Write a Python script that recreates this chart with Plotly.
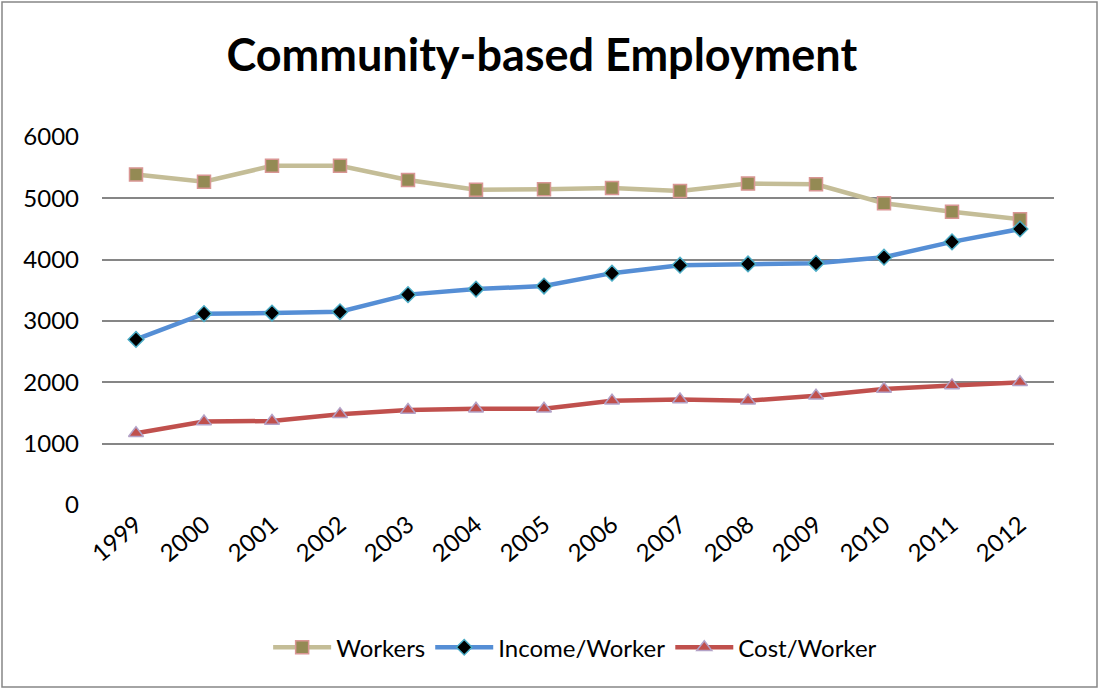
import plotly.graph_objects as go

years = ["1999", "2000", "2001", "2002", "2003", "2004", "2005",
         "2006", "2007", "2008", "2009", "2010", "2011", "2012"]
workers = [5390, 5270, 5530, 5530, 5300, 5140, 5150, 5170, 5120, 5240, 5230, 4920, 4780, 4660]
income_per_worker = [2700, 3120, 3130, 3150, 3430, 3520, 3570, 3780, 3910, 3930, 3940, 4040, 4290, 4500]
cost_per_worker = [1170, 1360, 1370, 1480, 1550, 1570, 1570, 1700, 1720, 1700, 1780, 1890, 1950, 2000]

FONT = "Lato"

fig = go.Figure()
fig.add_trace(go.Scatter(
    x=years, y=workers, name="Workers", mode="lines+markers",
    line=dict(color="#C4BD97", width=4.5),
    marker=dict(symbol="square", size=13, color="#948A54",
                line=dict(color="#D99694", width=1.5)),
))
fig.add_trace(go.Scatter(
    x=years, y=income_per_worker, name="Income/Worker", mode="lines+markers",
    line=dict(color="#558ED5", width=4.5),
    marker=dict(symbol="diamond", size=12, color="#000000",
                line=dict(color="#4BACC6", width=1.5)),
))
fig.add_trace(go.Scatter(
    x=years, y=cost_per_worker, name="Cost/Worker", mode="lines+markers",
    line=dict(color="#C0504D", width=4.5),
    marker=dict(symbol="triangle-up", size=13, color="#C0504D",
                line=dict(color="#B3A2C7", width=1.5)),
))

fig.update_layout(
    width=1099, height=689,
    margin=dict(l=102, r=45, t=137, b=184),
    paper_bgcolor="white", plot_bgcolor="white",
    font=dict(family=FONT, size=24, color="#000000"),
    title=dict(text="<b>Community-based Employment</b>",
               font=dict(family=FONT, size=45, color="#000000"),
               x=0.493, xanchor="center", y=0.92, yanchor="middle"),
    showlegend=True,
    legend=dict(orientation="h", x=0.497, xanchor="center", y=0.06, yref="container",
                yanchor="middle", font=dict(size=24), itemwidth=58,
                traceorder="normal"),
    xaxis=dict(type="category", range=[-0.5, 13.5], showgrid=False, showline=False,
               ticks="", tickangle=-40, tickfont=dict(size=24), zeroline=False),
    yaxis=dict(range=[0, 6000], tickvals=[0, 1000, 2000, 3000, 4000, 5000, 6000],
               showgrid=True, gridcolor="#868686", gridwidth=1.5,
               showline=False, zeroline=False, ticks="",
               ticklabelstandoff=22, tickfont=dict(size=24)),
)

fig.add_shape(type="rect", xref="paper", yref="paper",
              x0=(2 - 102) / 952, x1=(1097 - 102) / 952,
              y0=(505 - 687) / 368, y1=(505 - 2) / 368,
              line=dict(color="#868686", width=1.5), fillcolor="rgba(0,0,0,0)",
              layer="below")

fig.write_html("out.html")
